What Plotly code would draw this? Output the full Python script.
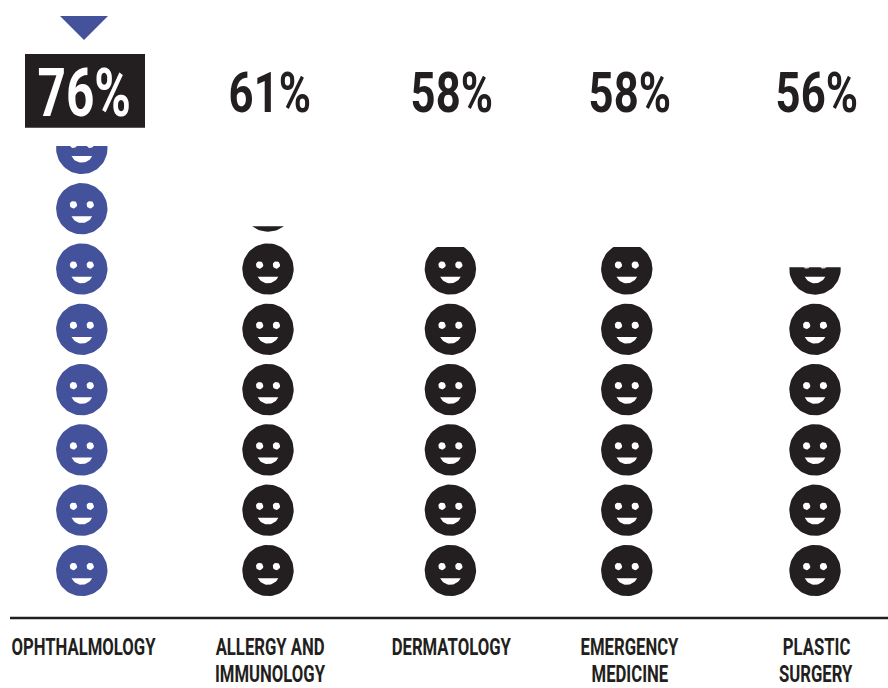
import math
import numpy as np
import plotly.graph_objects as go

category_lines = [["OPHTHALMOLOGY"], ["ALLERGY AND", "IMMUNOLOGY"], ["DERMATOLOGY"], ["EMERGENCY", "MEDICINE"], ["PLASTIC", "SURGERY"]]
percent = [76, 61, 58, 58, 56]
# height of the cropped face stack, in faces
stack_height = [7.54, 6.21, 5.865, 5.865, 5.53]
highlight = [True, False, False, False, False]

BLUE = "#43529b"
BLACK = "#231f20"
FONT = "Roboto"
W, H = 888, 688
col_x = [81.8, 268, 450.4, 626.8, 815]
label_x = [83.2, 270.4, 451, 629.7, 816.3]
pct_x = [84.5, 270, 452, 630, 817]
PITCH = 60.3
Y0 = 600.65
AXIS_PX = 618
R = 25.7
last_nudge = [0, 0.045, 0, 0, 0]
PCT_SIZE_HI = 66
PCT_SIZE = 56
LAB_SIZE = 23
LINE_PX = [647.5, 674.2]


def py(p):
    return (Y0 - p) / PITCH


def clip(pts, level):
    out = []
    n = len(pts)
    for i in range(n):
        a, b = pts[i], pts[(i + 1) % n]
        ain, bin_ = a[1] <= level, b[1] <= level
        if ain:
            out.append(a)
        if ain != bin_:
            t = (level - a[1]) / (b[1] - a[1])
            out.append((a[0] + t * (b[0] - a[0]), level))
    return out


def ring(cx, cy, r, n=72):
    t = np.linspace(0, 2 * np.pi, n, endpoint=False)
    return [(cx + r * math.cos(v), cy + r * math.sin(v) / PITCH) for v in t]


def smile(cx, cy):
    rr = 11.3
    a = math.asin(10.3 / rr)
    t = np.linspace(-a, a, 24)
    return [(cx + rr * math.sin(v), cy - (3 + rr * math.cos(v)) / PITCH) for v in t]


def add_poly(xs, ys, pts):
    if len(pts) >= 3:
        xs.extend(p[0] for p in pts)
        xs.append(pts[0][0])
        xs.append(None)
        ys.extend(p[1] for p in pts)
        ys.append(pts[0][1])
        ys.append(None)


fig = go.Figure()
white_x, white_y = [], []
for i, lines in enumerate(category_lines):
    xs, ys = [], []
    level = stack_height[i]
    n = math.ceil(level)
    for k in range(n):
        cy = k + 0.5 + (last_nudge[i] if k == n - 1 else 0)
        cx = col_x[i]
        add_poly(xs, ys, clip(ring(cx, cy, R), level))
        add_poly(white_x, white_y, clip(ring(cx - 8.4, cy + 4 / PITCH, 3.7, 24), level))
        add_poly(white_x, white_y, clip(ring(cx + 8.4, cy + 4 / PITCH, 3.7, 24), level))
        add_poly(white_x, white_y, clip(smile(cx, cy), level))
    fig.add_trace(go.Scatter(x=xs, y=ys, mode="lines", fill="toself", line=dict(width=0),
                             fillcolor=BLUE if highlight[i] else BLACK,
                             name=" ".join(lines), hoverinfo="skip"))
fig.add_trace(go.Scatter(x=white_x, y=white_y, mode="lines", fill="toself", line=dict(width=0),
                         fillcolor="white", hoverinfo="skip"))

fig.add_trace(go.Scatter(x=[60, 108, 84, 60], y=[py(16), py(16), py(40), py(16)], mode="lines",
                         fill="toself", line=dict(width=0), fillcolor=BLUE, hoverinfo="skip"))
fig.add_trace(go.Scatter(x=[10, W], y=[py(AXIS_PX), py(AXIS_PX)], mode="lines",
                         line=dict(width=2.4, color=BLACK), hoverinfo="skip"))

fig.add_shape(type="rect", x0=25, x1=145, y0=py(54), y1=py(127.8), fillcolor=BLACK, line_width=0, layer="below")

for i, v in enumerate(percent):
    hi = highlight[i]
    fig.add_annotation(x=pct_x[i], y=py(93), text=f"{v}%", showarrow=False, borderpad=0,
                       font=dict(family=FONT, size=PCT_SIZE_HI if hi else PCT_SIZE, weight="bold",
                                 color="white" if hi else BLACK),
                       xanchor="center", yanchor="middle")
    for j, line in enumerate(category_lines[i]):
        fig.add_annotation(x=label_x[i], y=py(LINE_PX[j]), text=line, showarrow=False, borderpad=0,
                           font=dict(family=FONT, size=LAB_SIZE, weight="bold", color=BLACK),
                           xanchor="center", yanchor="middle")

fig.update_layout(
    width=W, height=H, showlegend=False, plot_bgcolor="white", paper_bgcolor="white",
    margin=dict(l=0, r=0, t=0, b=0),
    xaxis=dict(range=[0, W], visible=False),
    yaxis=dict(range=[py(H), py(0)], visible=False),
)

post = """
document.body.style.margin='0';
document.querySelectorAll('.annotation-text').forEach(function(t){
  var fs = parseFloat(t.style.fontSize);
  var sx = fs > 60 ? 0.75 : (fs > 40 ? 0.78 : 0.726);
  var b = t.getBBox();
  var cx = b.x + b.width/2;
  t.setAttribute('transform','translate('+cx+',0) scale('+sx+',1) translate('+(-cx)+',0)');
});
"""
fig.write_html("out.html", post_script=post, config={"displayModeBar": False})
